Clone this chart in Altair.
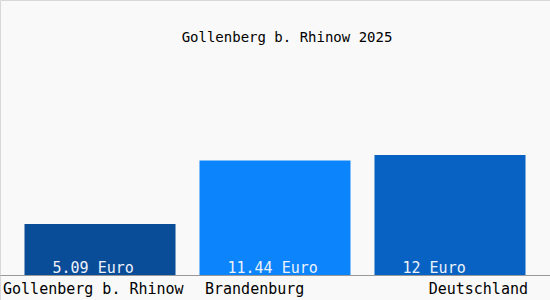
import altair as alt
import pandas as pd

categories = ["Gollenberg b. Rhinow", "Brandenburg", "Deutschland"]
values = [5.09, 11.44, 12.0]
labels = ["5.09 Euro", "11.44 Euro", "12 Euro"]
colors = ["#094c98", "#0c84fb", "#0862c3"]

df = pd.DataFrame({"cat": categories, "val": values, "lab": labels})

FONT = "DejaVu Sans Mono"

xscale = alt.Scale(domain=categories, paddingInner=0.137, paddingOuter=0.14)
yscale = alt.Scale(domain=[-2.5, 27.5], nice=False, zero=False)

bars = alt.Chart(df).mark_bar().encode(
    x=alt.X("cat:N", scale=xscale, sort=categories, title=None,
            axis=alt.Axis(
                offset=-25, domainColor="#999999", domainWidth=1, ticks=False,
                labelFont=FONT, labelFontSize=15, labelColor="#000000",
                labelAngle=0, labelPadding=6, labelBaseline="top",
                labelAlign={"condition": [{"test": "datum.value == 'Deutschland'", "value": "right"}],
                            "value": "left"},
                labelOffset={"condition": [
                    {"test": "datum.value == 'Deutschland'", "value": 78},
                    {"test": "datum.value == 'Brandenburg'", "value": -70}],
                    "value": -97},
                labelLimit=0)),
    y=alt.Y("val:Q", scale=yscale, axis=None),
    y2=alt.datum(0),
    color=alt.Color("cat:N", scale=alt.Scale(domain=categories, range=colors), legend=None),
)

text = alt.Chart(df).mark_text(
    font=FONT, fontSize=15, color="#eef2fa", align="left", baseline="bottom", dx=28, dy=1
).encode(
    x=alt.X("cat:N", scale=xscale, sort=categories, bandPosition=0),
    y=alt.Y("zero:Q", scale=yscale),
    text="lab:N",
).transform_calculate(zero="0")

chart = alt.layer(bars, text).properties(
    width=550, height=300,
    padding=0,
    autosize=alt.AutoSizeParams(type="none"),
    background="#f9f9f9",
    title=alt.TitleParams("Gollenberg b. Rhinow 2025", font=FONT, fontSize=14,
                          fontWeight="normal", color="#000000", offset=-45, dx=12,
                          anchor="middle"),
).configure_view(stroke="#d8d8d8", strokeWidth=1)

chart.save("out.html", embed_options={"renderer": "svg", "actions": False})
